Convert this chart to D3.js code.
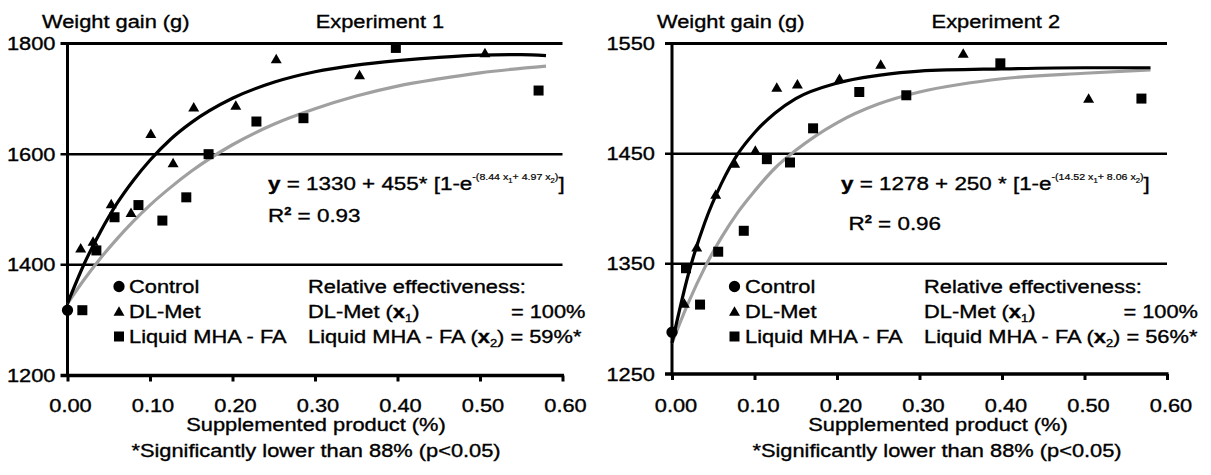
<!DOCTYPE html>
<html><head><meta charset="utf-8">
<script src="https://cdn.jsdelivr.net/npm/d3@7"></script>
<style>
html,body{margin:0;padding:0;background:#fff;}
svg{display:block;}
text{font-family:"Liberation Sans",Arial,sans-serif;fill:#000;stroke:#000;stroke-width:0.35px;white-space:pre;}
</style></head><body>
<svg id="chart" width="1211" height="475"></svg>
<script>
// ---------------- data ----------------
const xTicks = [0, 0.1, 0.2, 0.3, 0.4, 0.5, 0.6];
const xTickLabels = ["0.00", "0.10", "0.20", "0.30", "0.40", "0.50", "0.60"];
const exp1YTicks = [1200, 1400, 1600, 1800];
const exp2YTicks = [1250, 1350, 1450, 1550];

const seriesNames = ["Control", "DL-Met", "Liquid MHA - FA"];

// Experiment 1  [supplemented %, weight gain g]
const exp1Control = [[0, 1318]];
const exp1DLMet = [[0.016, 1428], [0.031, 1440], [0.053, 1508], [0.077, 1492], [0.101, 1635],
  [0.128, 1582], [0.153, 1683], [0.204, 1686], [0.253, 1770], [0.354, 1741], [0.506, 1781]];
const exp1MHA = [[0.018, 1318], [0.035, 1426], [0.057, 1486], [0.086, 1508], [0.115, 1480],
  [0.144, 1522], [0.171, 1600], [0.229, 1659], [0.286, 1665], [0.398, 1792], [0.571, 1715]];
const exp1DLMetCurve = [[0, 1330], [0.02, 1401], [0.04, 1460], [0.06, 1511], [0.08, 1553], [0.1, 1589],
  [0.125, 1627], [0.15, 1657], [0.2, 1701], [0.25, 1730], [0.3, 1749], [0.35, 1761], [0.4, 1769],
  [0.45, 1775], [0.5, 1779], [0.55, 1780], [0.58, 1778]];
const exp1MHACurve = [[0, 1330], [0.02, 1373], [0.04, 1412], [0.06, 1447], [0.08, 1479], [0.1, 1508],
  [0.125, 1540], [0.15, 1569], [0.2, 1617], [0.25, 1654], [0.3, 1682], [0.35, 1705], [0.4, 1723],
  [0.45, 1736], [0.5, 1747], [0.58, 1759]];

// Experiment 2
const exp2Control = [[0, 1288]];
const exp2DLMet = [[0.015, 1313], [0.03, 1364], [0.053, 1412], [0.076, 1440], [0.101, 1452],
  [0.127, 1509], [0.152, 1512], [0.203, 1517], [0.253, 1530], [0.353, 1540], [0.505, 1499]];
const exp2MHA = [[0.017, 1346], [0.034, 1313], [0.056, 1361], [0.087, 1380], [0.115, 1445],
  [0.143, 1442], [0.171, 1473], [0.227, 1506], [0.284, 1503], [0.398, 1532], [0.569, 1500]];
const exp2DLMetCurve = [[0, 1278], [0.02, 1341], [0.04, 1388], [0.06, 1423], [0.08, 1450], [0.1, 1469],
  [0.125, 1487], [0.15, 1500], [0.2, 1514], [0.25, 1521], [0.3, 1525], [0.4, 1527], [0.5, 1528], [0.58, 1528]];
const exp2MHACurve = [[0, 1278], [0.02, 1315], [0.04, 1347], [0.06, 1374], [0.08, 1397], [0.1, 1416],
  [0.125, 1437], [0.15, 1453], [0.2, 1478], [0.25, 1495], [0.3, 1506], [0.35, 1513], [0.4, 1518],
  [0.5, 1523], [0.58, 1526]];

const yAxisTitle = "Weight gain (g)";
const xAxisTitle = "Supplemented product (%)";
const footnote = "*Significantly lower than 88% (p<0.05)";
const expTitles = ["Experiment 1", "Experiment 2"];
const eqIntercepts = ["1330", "1278"];
const eqGains = ["455*", "250 *"];
const eqRates1 = ["8.44", "14.52"];
const eqRates2 = ["4.97", "8.06"];
const r2Values = ["0.93", "0.96"];
const relEffDL = ["100%", "100%"];
const relEffMHA = ["59%*", "56%*"];

// ---------------- drawing ----------------
const SX = 1.18;
const FS = 18.5;
const svg = d3.select("#chart");

function stext(parent, x, y, segs, anchor, size) {
  const g = parent.append("g").attr("transform", `translate(${x},${y}) scale(${SX},1)`);
  const t = g.append("text").attr("text-anchor", anchor || "start").style("font-size", (size || FS) + "px");
  let prev = 0;
  segs.forEach(s => {
    if (typeof s === "string") s = {t: s};
    const ts = t.append("tspan").text(s.t);
    const sh = s.shift || 0;
    if (sh !== prev) ts.attr("dy", sh - prev);
    prev = sh;
    if (s.size) ts.style("font-size", s.size + "px");
    if (s.bold) ts.style("font-weight", "bold");
    if (s.sw !== undefined) ts.style("stroke-width", s.sw + "px");
  });
  return t;
}

const panels = [
  {xr: [67.5, 562.5], yr: [375.5, 43.5], yDomain: [1200, 1800], yTicks: exp1YTicks, yLabX: 55.5,
   control: exp1Control, dl: exp1DLMet, mha: exp1MHA, dlCurve: exp1DLMetCurve, mhaCurve: exp1MHACurve,
   yTitleX: 42, expX: 315.7, eqX: 268, eqY: 190, r2X: 268, r2Y: 221.5,
   legMX: 119, legTX: 129, effX: 308, effEnd: 585.5, xTitleC: 316, footC: 316, tickOff: 3},
  {xr: [672, 1167], yr: [374, 43.5], yDomain: [1250, 1550], yTicks: exp2YTicks, yLabX: 655,
   control: exp2Control, dl: exp2DLMet, mha: exp2MHA, dlCurve: exp2DLMetCurve, mhaCurve: exp2MHACurve,
   yTitleX: 657, expX: 931.6, eqX: 841, eqY: 190, r2X: 848.5, r2Y: 230,
   legMX: 734.5, legTX: 745, effX: 924, effEnd: 1198, xTitleC: 938, footC: 937, tickOff: 4}
];

panels.forEach((p, i) => {
  const g = svg.append("g");
  const x = d3.scaleLinear().domain([0, 0.6]).range(p.xr);
  const y = d3.scaleLinear().domain(p.yDomain).range(p.yr);

  // gridlines (with left tick stubs)
  p.yTicks.slice(1).forEach((v, k) => {
    g.append("line").attr("x1", x(0) - 7).attr("x2", x(0.6))
      .attr("y1", y(v)).attr("y2", y(v))
      .attr("stroke", "#000").attr("stroke-width", k === p.yTicks.length - 2 ? 3 : 2.5);
  });
  // y axis
  g.append("line").attr("x1", x(0)).attr("x2", x(0)).attr("y1", y(p.yDomain[1]) - 1.5).attr("y2", y(p.yDomain[0]) + 1.5)
    .attr("stroke", "#000").attr("stroke-width", 3);
  // x axis via d3 axis
  const xAxis = d3.axisBottom(x).tickValues(xTicks).tickSize(6).tickFormat("");
  const ax = g.append("g").attr("transform", `translate(0,${y(p.yDomain[0])})`).call(xAxis);
  ax.select(".domain").attr("d", `M${x(0) - 7},0H${x(0.6) + 1.5}`).attr("stroke", "#000").attr("stroke-width", 3.5);
  ax.selectAll(".tick line").attr("stroke", "#000").attr("stroke-width", 3);

  // y tick labels
  p.yTicks.forEach(v => stext(g, p.yLabX, y(v) + 6.5, [String(v)], "end"));
  // x tick labels
  xTicks.forEach((v, k) => stext(g, x(v) + p.tickOff, 411.5, [xTickLabels[k]], "middle"));

  // curves
  const line = d3.line().x(d => x(d[0])).y(d => y(d[1])).curve(d3.curveMonotoneX);
  g.append("path").datum(p.mhaCurve).attr("d", line).attr("fill", "none")
    .attr("stroke", "#a0a0a0").attr("stroke-width", 3.2);
  g.append("path").datum(p.dlCurve).attr("d", line).attr("fill", "none")
    .attr("stroke", "#000").attr("stroke-width", 3.2);

  // points
  const tri = d3.symbol().type(d3.symbolTriangle).size(52);
  const sq = d3.symbol().type(d3.symbolSquare).size(100);
  const circ = d3.symbol().type(d3.symbolCircle).size(100);
  g.selectAll(".dl").data(p.dl).join("path").attr("d", tri)
    .attr("transform", d => `translate(${x(d[0])},${y(d[1])})`).attr("fill", "#000");
  g.selectAll(".mha").data(p.mha).join("path").attr("d", sq)
    .attr("transform", d => `translate(${x(d[0])},${y(d[1])})`).attr("fill", "#000");
  g.selectAll(".ctl").data(p.control).join("path").attr("d", circ)
    .attr("transform", d => `translate(${x(d[0])},${y(d[1])})`).attr("fill", "#000");

  // titles
  stext(g, p.yTitleX, 28, [yAxisTitle]);
  stext(g, p.expX, 28, [expTitles[i]]);

  // equation
  stext(g, p.eqX, p.eqY, [
    {t: "y", bold: true},
    " = " + eqIntercepts[i] + " + " + eqGains[i] + " [1-e",
    {t: "-(" + eqRates1[i] + " x", size: 9, shift: -10, sw: 0.2},
    {t: "1", size: 6.5, shift: -7.5, sw: 0.2},
    {t: "+ " + eqRates2[i] + " x", size: 9, shift: -10, sw: 0.2},
    {t: "2", size: 6.5, shift: -7.5, sw: 0.2},
    {t: ")", size: 9, shift: -10, sw: 0.2},
    {t: "]", shift: 0}
  ], "start", 19);
  stext(g, p.r2X, p.r2Y, ["R", {t: "2", size: 11, shift: -7, bold: true}, {t: " = " + r2Values[i], shift: 0}], "start", 19);

  // legend
  const rows = [293, 318, 343];
  g.append("path").attr("d", circ).attr("transform", `translate(${p.legMX},${rows[0] - 6.5})`).attr("fill", "#000");
  g.append("path").attr("d", tri).attr("transform", `translate(${p.legMX},${rows[1] - 5.5})`).attr("fill", "#000");
  g.append("path").attr("d", sq).attr("transform", `translate(${p.legMX},${rows[2] - 6.5})`).attr("fill", "#000");
  seriesNames.forEach((n, k) => stext(g, p.legTX, rows[k], [n]));

  stext(g, p.effX, rows[0], ["Relative effectiveness:"]);
  stext(g, p.effX, rows[1], ["DL-Met (", {t: "x", bold: true}, {t: "1", size: 11, shift: 4}, {t: ")", shift: 0}]);
  stext(g, p.effEnd, rows[1], ["= " + relEffDL[i]], "end");
  stext(g, p.effX, rows[2], ["Liquid MHA - FA (", {t: "x", bold: true}, {t: "2", size: 11, shift: 4},
    {t: ") = " + relEffMHA[i], shift: 0}]);

  // axis titles
  stext(g, p.xTitleC, 431, [xAxisTitle], "middle");
  stext(g, p.footC, 457, [footnote], "middle");
});
</script>
</body></html>
